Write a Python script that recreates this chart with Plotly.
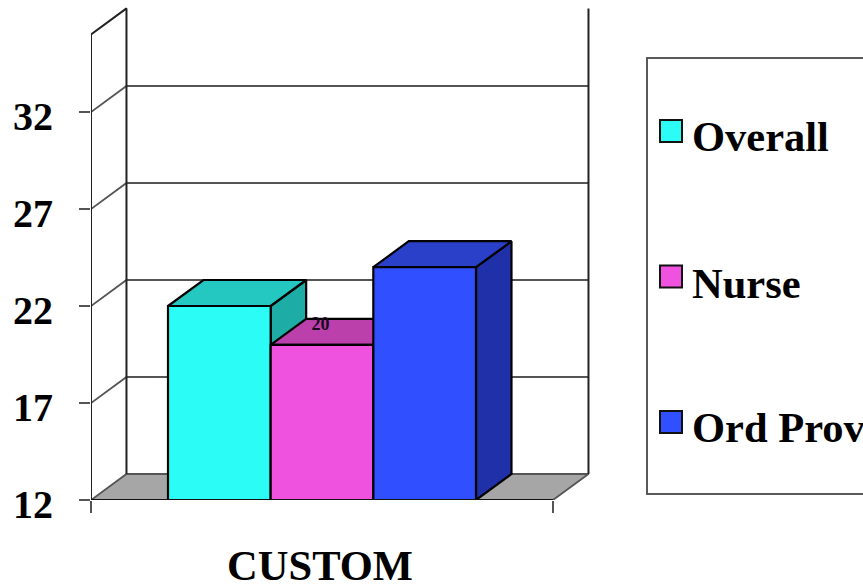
import plotly.graph_objects as go

# Survey scores for the single CUSTOM group
series_names = ["Overall", "Nurse", "Ord Prov"]
series_values = [22, 20, 24]
front_colors = ["#2BFDF6", "#F052E0", "#3050FF"]
top_colors = ["#25C8C0", "#BC40AC", "#2A40C8"]
side_colors = ["#1DACA6", "#9C3590", "#1F30A8"]
y_ticks = [12, 17, 22, 27, 32]
category = "CUSTOM"

# Oblique projection: how far the back of the box is shifted in axis units
Y_MIN, Y_MAX = 12, 36
DEPTH_X = 0.0768
DEPTH_Y = 1.34
BAR_START = 1 / 6
BAR_WIDTH = 2 / 9

WIDTH, HEIGHT = 863, 585
LEFT, BOTTOM = 91, 85
PLOT_W, PLOT_H = 509, 500
X_RANGE = [0, PLOT_W / 462]
Y_RANGE = [12, 12 + PLOT_H / 19.4]

SERIF = "Liberation Serif, Times New Roman, serif"
AXIS_GREY = "#555555"


def px_x(px):
    return (px - LEFT) / PLOT_W


def px_y(py):
    return (HEIGHT - BOTTOM - py) / PLOT_H


def polygon(xs, ys, fill, line="#000000", width=2.2):
    return go.Scatter(x=xs, y=ys, mode="lines", fill="toself", fillcolor=fill,
                      line=dict(color=line, width=width), hoverinfo="skip",
                      showlegend=False)


def segment(xs, ys, color=AXIS_GREY, width=1.8):
    return go.Scatter(x=xs, y=ys, mode="lines", line=dict(color=color, width=width),
                      hoverinfo="skip", showlegend=False)


fig = go.Figure()

# Floor of the box
fig.add_trace(polygon([0, 1, 1 + DEPTH_X, DEPTH_X, 0],
                      [Y_MIN, Y_MIN, Y_MIN + DEPTH_Y, Y_MIN + DEPTH_Y, Y_MIN],
                      "#A6A6A6", AXIS_GREY, 1.8))

# Gridlines across the back wall and along the left wall
for v in y_ticks[1:]:
    fig.add_trace(segment([0, DEPTH_X, 1 + DEPTH_X],
                          [v, v + DEPTH_Y, v + DEPTH_Y]))

# Wall edges
fig.add_trace(segment([0, 0, DEPTH_X, DEPTH_X],
                      [Y_MIN, Y_MAX, Y_MAX + DEPTH_Y, Y_MIN + DEPTH_Y],
                      "#222222", 2))
fig.add_trace(segment([1 + DEPTH_X, 1 + DEPTH_X],
                      [Y_MIN + DEPTH_Y, Y_MAX + DEPTH_Y], "#222222", 2))

# Bars: side, top and front faces
for i, value in enumerate(series_values):
    x0 = BAR_START + i * BAR_WIDTH
    x1 = x0 + BAR_WIDTH
    fig.add_trace(polygon([x1, x1 + DEPTH_X, x1 + DEPTH_X, x1, x1],
                          [Y_MIN, Y_MIN + DEPTH_Y, value + DEPTH_Y, value, Y_MIN],
                          side_colors[i]))
    fig.add_trace(polygon([x0, x0 + DEPTH_X, x1 + DEPTH_X, x1, x0],
                          [value, value + DEPTH_Y, value + DEPTH_Y, value, value],
                          top_colors[i]))
    fig.add_trace(polygon([x0, x1, x1, x0, x0],
                          [Y_MIN, Y_MIN, value, value, Y_MIN],
                          front_colors[i]))

# Front edge of the floor
fig.add_trace(segment([0, 1], [Y_MIN, Y_MIN], "#111111", 2.2))

# Value label on the Nurse bar
nurse = series_names.index("Nurse")
fig.add_trace(go.Scatter(
    x=[BAR_START + (nurse + 0.5) * BAR_WIDTH - 0.003],
    y=[series_values[nurse] + 1.02],
    mode="text", text=[str(series_values[nurse])],
    textfont=dict(family=SERIF, size=18, color="#1a0a20", weight="bold"),
    hoverinfo="skip", showlegend=False))

# Legend panel, open on its right side where the page ends
shapes = [dict(type="rect", xref="paper", yref="paper",
               x0=px_x(647), x1=px_x(880), y0=px_y(494), y1=px_y(58),
               line=dict(color="#5a5a5a", width=2), fillcolor="rgba(0,0,0,0)")]
annotations = []
for name, color, swatch_top, label_mid in zip(series_names, front_colors,
                                               [120, 265.5, 411], [136, 283, 427]):
    shapes.append(dict(type="rect", xref="paper", yref="paper",
                       x0=px_x(660), x1=px_x(682),
                       y0=px_y(swatch_top + 22), y1=px_y(swatch_top),
                       line=dict(color="#111111", width=2), fillcolor=color))
    annotations.append(dict(xref="paper", yref="paper", x=px_x(689.5), y=px_y(label_mid),
                            xanchor="left", yanchor="middle", showarrow=False,
                            text=f"<b>{name}</b>",
                            font=dict(family=SERIF, size=42.5, color="#000000")))

fig.update_layout(
    width=WIDTH, height=HEIGHT,
    margin=dict(l=LEFT, r=WIDTH - LEFT - PLOT_W, t=0, b=BOTTOM, pad=0, autoexpand=False),
    paper_bgcolor="#FFFFFF", plot_bgcolor="rgba(0,0,0,0)",
    showlegend=False, hovermode=False,
    shapes=shapes, annotations=annotations,
    xaxis=dict(range=X_RANGE, showgrid=False, zeroline=False, showline=False,
               automargin=False,
               tickmode="array", tickvals=[0.5], ticktext=[f"<b>{category}</b>"],
               ticks="outside", ticklen=28, tickcolor="rgba(0,0,0,0)",
               ticklabelshift=-2,
               tickfont=dict(family=SERIF, size=42.5, color="#000000"),
               minor=dict(tickmode="array", tickvals=[0, 1], ticks="outside",
                          ticklen=12, tickcolor=AXIS_GREY, tickwidth=1.6)),
    yaxis=dict(range=Y_RANGE, showgrid=False, zeroline=False, showline=False,
               automargin=False,
               tickmode="array", tickvals=y_ticks,
               ticktext=[f"<b>{v}</b>" for v in y_ticks],
               ticks="outside", ticklen=11, tickcolor=AXIS_GREY, tickwidth=1.6,
               ticklabelstandoff=18, ticklabelshift=4,
               tickfont=dict(family=SERIF, size=40, color="#000000")),
)

fig.write_html("out.html")
